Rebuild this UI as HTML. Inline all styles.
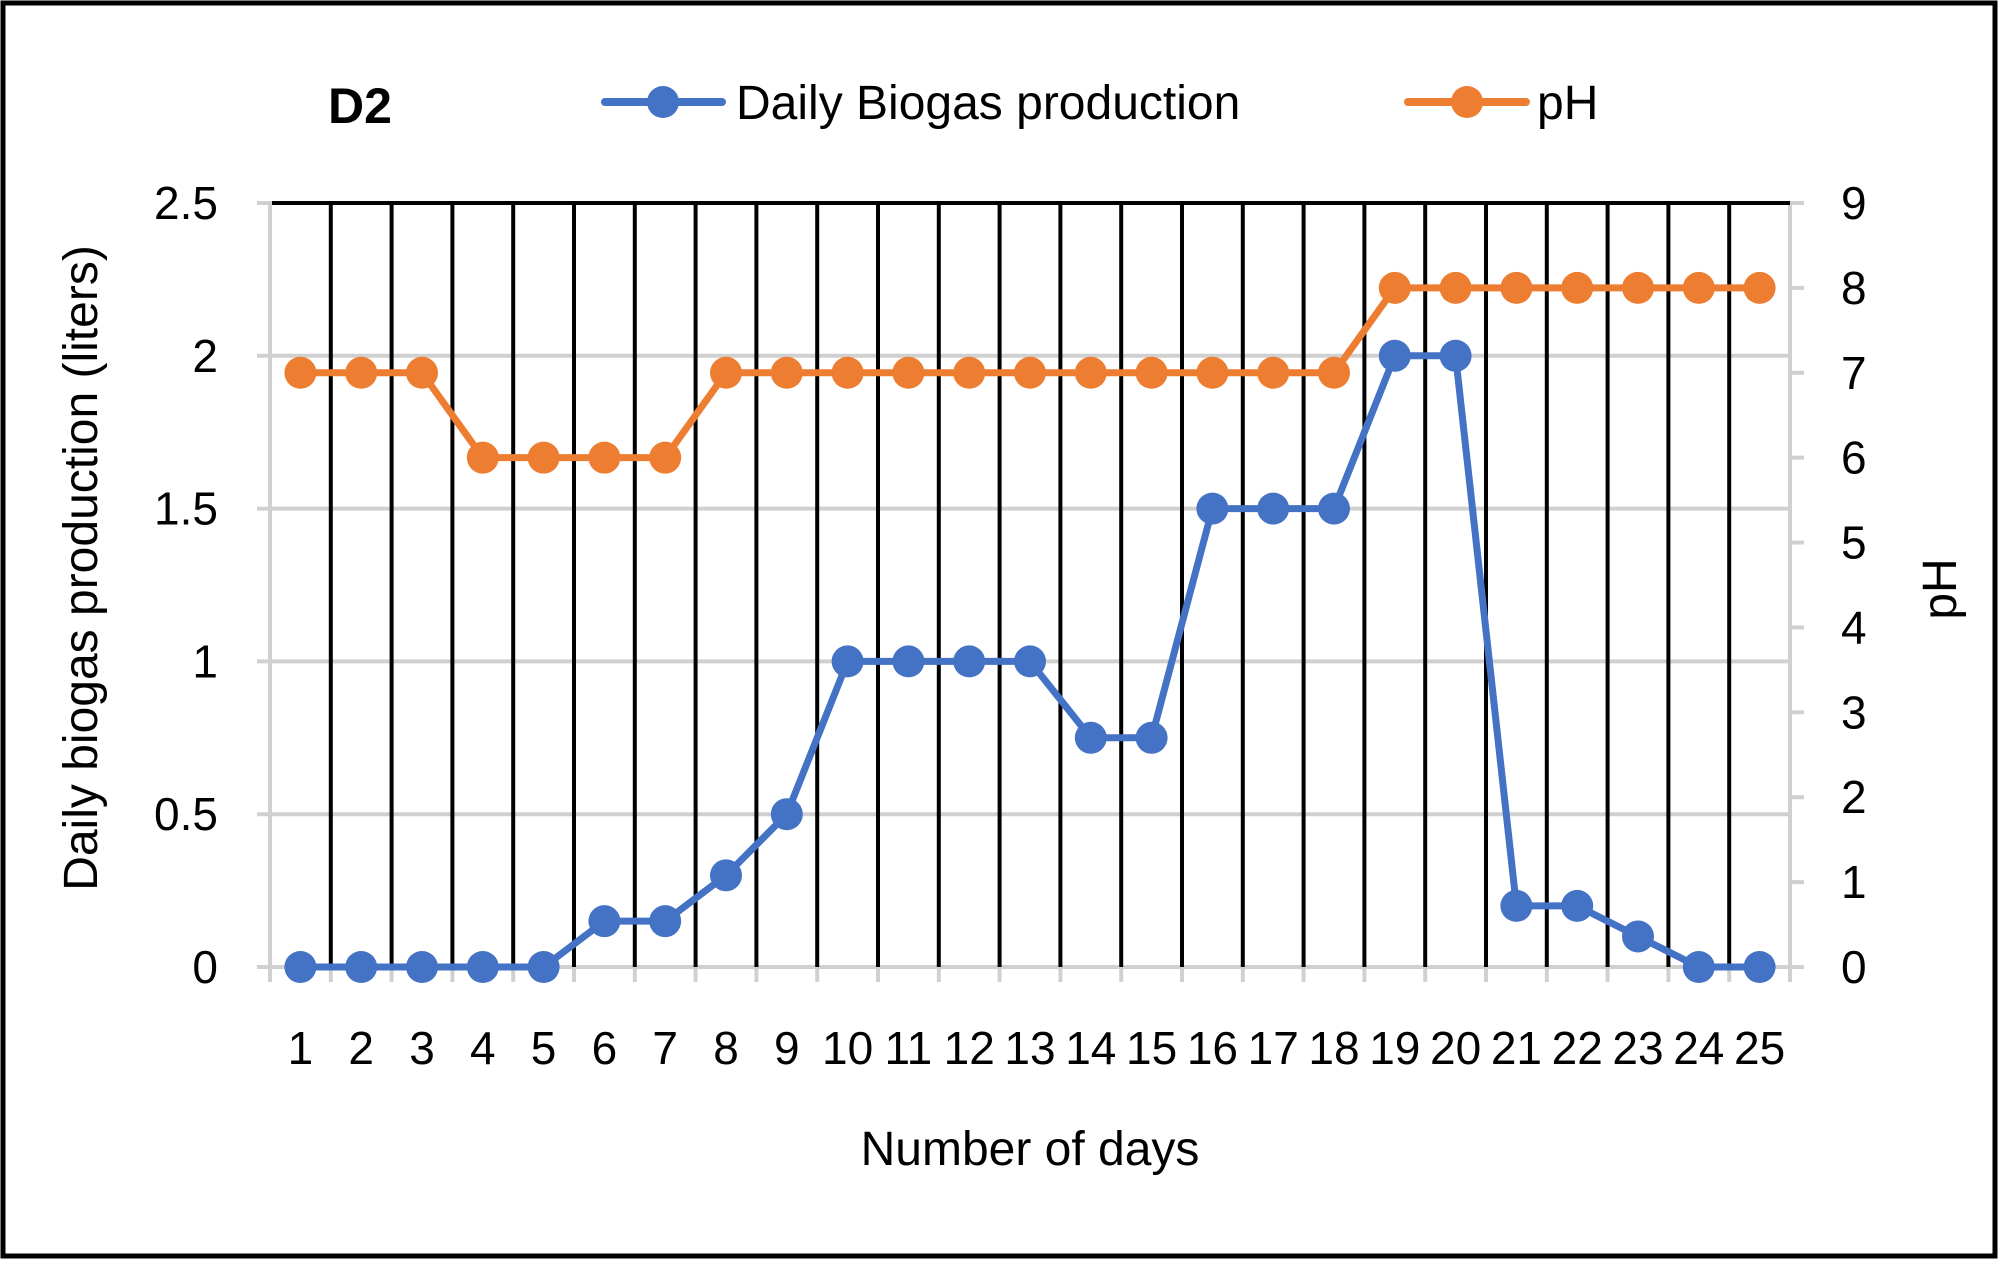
<!DOCTYPE html>
<html><head><meta charset="utf-8"><style>
html,body{margin:0;padding:0;background:#fff;}
svg{display:block;font-family:"Liberation Sans",Arial,sans-serif;}
</style></head><body>
<svg id="c" width="2000" height="1261" xmlns="http://www.w3.org/2000/svg">
<rect x="0" y="0" width="2000" height="1261" fill="#fff"/>
<rect x="3" y="3" width="1992" height="1253" fill="none" stroke="#000" stroke-width="5"/>
<g id="g"></g>
<text x="328" y="123" font-size="50" font-weight="bold">D2</text>
<line x1="605" y1="102" x2="722" y2="102" stroke="#4472C4" stroke-width="8" stroke-linecap="round"/>
<circle cx="663" cy="102" r="16" fill="#4472C4"/>
<text x="736" y="119" font-size="48">Daily Biogas production</text>
<line x1="1408" y1="102" x2="1526" y2="102" stroke="#ED7D31" stroke-width="8" stroke-linecap="round"/>
<circle cx="1467" cy="102" r="16" fill="#ED7D31"/>
<text x="1537" y="119" font-size="48">pH</text>
<text x="1030" y="1165" font-size="48" text-anchor="middle">Number of days</text>
<text transform="translate(97,568) rotate(-90)" font-size="48" text-anchor="middle">Daily biogas production (liters)</text>
<text transform="translate(1956,589) rotate(-90)" font-size="48" text-anchor="middle">pH</text>
</svg>
<script>
var g=document.getElementById('g'),s='';
var L=270,R=1790,T=203,B=967,W=(R-L)/25;
function X(i){return L+(i+0.5)*W;}
for(var k=0;k<=5;k++){var y=B-k*(B-T)/5;
 s+='<line x1="257" y1="'+y+'" x2="'+R+'" y2="'+y+'" stroke="#d0d0d0" stroke-width="4"/>';
 s+='<text x="218" y="'+(y+16)+'" font-size="46" text-anchor="end">'+[0,0.5,1,1.5,2,2.5][k]+'</text>';}
for(var k=0;k<=9;k++){var y=B-k*(B-T)/9;
 s+='<line x1="'+R+'" y1="'+y+'" x2="1804" y2="'+y+'" stroke="#d0d0d0" stroke-width="4"/>';
 s+='<text x="1841" y="'+(y+16)+'" font-size="46">'+k+'</text>';}
s+='<line x1="'+L+'" y1="'+T+'" x2="'+L+'" y2="'+B+'" stroke="#d0d0d0" stroke-width="4"/>';
s+='<line x1="'+R+'" y1="'+T+'" x2="'+R+'" y2="'+B+'" stroke="#d0d0d0" stroke-width="4"/>';
for(var k=0;k<=25;k++){var x=L+k*W;
 s+='<line x1="'+x+'" y1="'+B+'" x2="'+x+'" y2="982" stroke="#d0d0d0" stroke-width="4"/>';
 if(k>0&&k<25) s+='<line x1="'+x+'" y1="'+T+'" x2="'+x+'" y2="'+B+'" stroke="#000" stroke-width="4"/>';}
s+='<line x1="'+(L+2)+'" y1="'+T+'" x2="'+R+'" y2="'+T+'" stroke="#000" stroke-width="4"/>';
for(var i=0;i<25;i++) s+='<text x="'+X(i)+'" y="1064" font-size="46" text-anchor="middle">'+(i+1)+'</text>';
var bio=[0,0,0,0,0,0.15,0.15,0.3,0.5,1,1,1,1,0.75,0.75,1.5,1.5,1.5,2,2,0.2,0.2,0.1,0,0];
var ph=[7,7,7,6,6,6,6,7,7,7,7,7,7,7,7,7,7,7,8,8,8,8,8,8,8];
function series(d,max,col){var p='',c='';for(var i=0;i<25;i++){var y=B-d[i]/max*(B-T);p+=(i?'L':'M')+X(i)+' '+y;c+='<circle cx="'+X(i)+'" cy="'+y+'" r="16" fill="'+col+'"/>';}
 return '<path d="'+p+'" fill="none" stroke="'+col+'" stroke-width="7" stroke-linejoin="round"/>'+c;}
s+=series(ph,9,'#ED7D31');
s+=series(bio,2.5,'#4472C4');
g.innerHTML=s;
</script>
</body></html>
